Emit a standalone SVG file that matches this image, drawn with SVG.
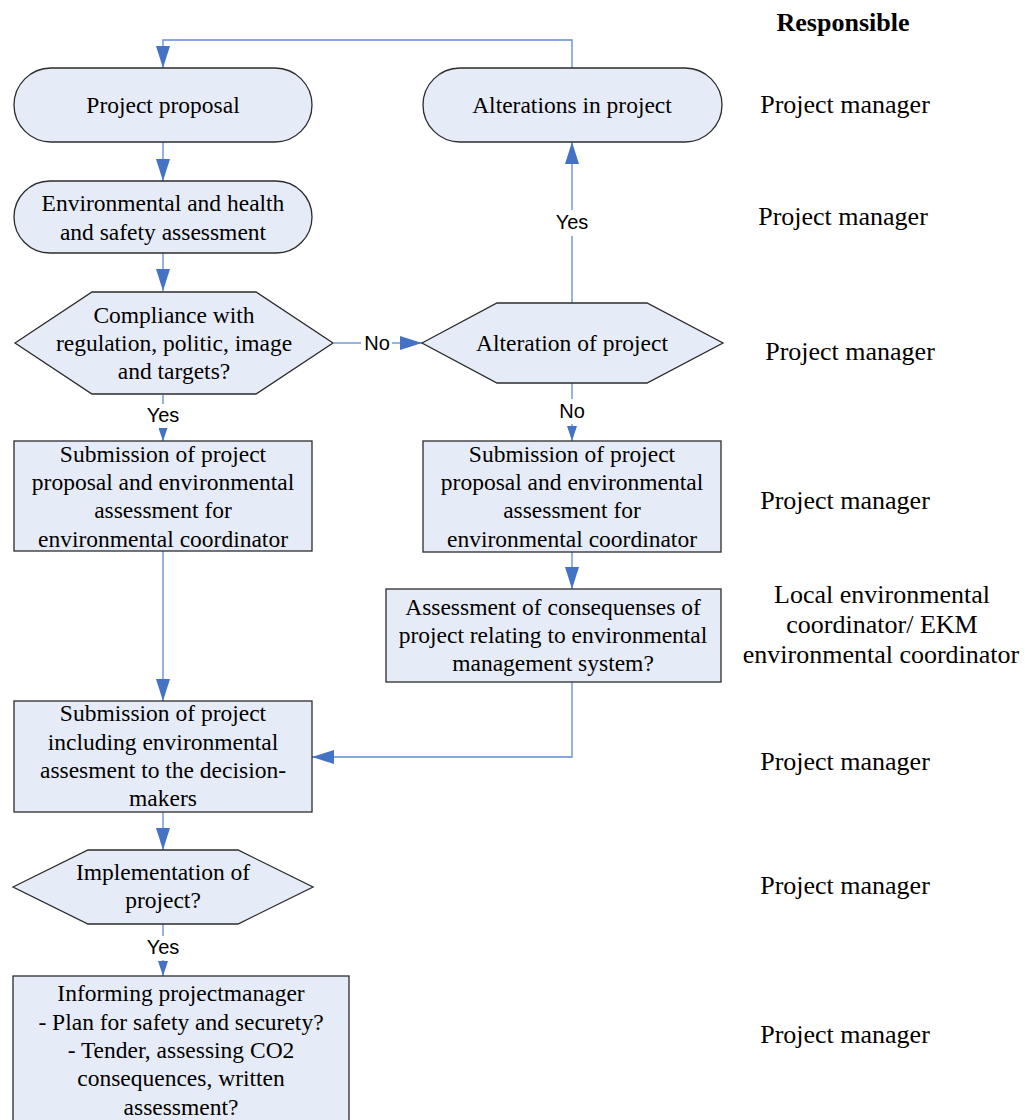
<svg xmlns="http://www.w3.org/2000/svg" width="1025" height="1120" viewBox="0 0 1025 1120">
  <style>
    .node { fill: #e6ecf7; stroke: #2b2b2b; stroke-width: 1.3; }
    .t { font-family: "Liberation Serif", "Times New Roman", serif; font-size: 23.5px; fill: #000; text-anchor: middle; }
    .resp { font-family: "Liberation Serif", "Times New Roman", serif; font-size: 26px; fill: #000; text-anchor: middle; }
    .head { font-weight: bold; }
    .lbl { font-family: "Liberation Sans", Arial, sans-serif; font-size: 20px; fill: #000; text-anchor: middle; }
    .conn { fill: none; stroke: #5b8bd3; stroke-width: 1.3; }
  </style>
  <defs>
    <marker id="arrow" viewBox="0 0 22 14" refX="22" refY="7" markerWidth="22" markerHeight="14" markerUnits="userSpaceOnUse" orient="auto">
      <path d="M0,0 L22,7 L0,14 z" fill="#4472c4"/>
    </marker>
    <marker id="arrow-sm" viewBox="0 0 13 9" refX="13" refY="4.5" markerWidth="13" markerHeight="9" markerUnits="userSpaceOnUse" orient="auto">
      <path d="M0,0 L13,4.5 L0,9 z" fill="#4472c4"/>
    </marker>
    <marker id="arrow-md" viewBox="0 0 15 10" refX="15" refY="5" markerWidth="15" markerHeight="10" markerUnits="userSpaceOnUse" orient="auto">
      <path d="M0,0 L15,5 L0,10 z" fill="#4472c4"/>
    </marker>
  </defs>
  <rect width="1025" height="1120" fill="#fff"/>

  <!-- connectors -->
  <g id="connectors">
    <path class="conn" d="M572,68 V40 H163 V68" marker-end="url(#arrow)"/>
    <path class="conn" d="M163,142 V181" marker-end="url(#arrow)"/>
    <path class="conn" d="M163,253 V291" marker-end="url(#arrow)"/>
    <path class="conn" d="M334,343 H361"/>
    <path class="conn" d="M392,343 H422" marker-end="url(#arrow)"/>
    <text class="lbl" x="377" y="350">No</text>
    <path class="conn" d="M163,395 V404"/>
    <path class="conn" d="M163,428 V441" marker-end="url(#arrow-sm)"/>
    <text class="lbl" x="163" y="422">Yes</text>
    <path class="conn" d="M572,303 V236"/>
    <path class="conn" d="M572,210 V142" marker-end="url(#arrow)"/>
    <text class="lbl" x="572" y="229">Yes</text>
    <path class="conn" d="M572,383 V399"/>
    <path class="conn" d="M572,424 V441" marker-end="url(#arrow-md)"/>
    <text class="lbl" x="572" y="418">No</text>
    <path class="conn" d="M163,551 V701" marker-end="url(#arrow)"/>
    <path class="conn" d="M572,552 V589" marker-end="url(#arrow)"/>
    <path class="conn" d="M572,682 V757 H312" marker-end="url(#arrow)"/>
    <path class="conn" d="M163,812 V850" marker-end="url(#arrow)"/>
    <path class="conn" d="M163,924 V936"/>
    <path class="conn" d="M163,960 V976" marker-end="url(#arrow-md)"/>
    <text class="lbl" x="163" y="954">Yes</text>
  </g>

  <!-- nodes -->
  <g id="project-proposal">
    <rect class="node" x="14" y="68" width="298" height="74" rx="37"/>
    <text class="t" x="163" y="113">Project proposal</text>
  </g>
  <g id="alterations-in-project">
    <rect class="node" x="423" y="68" width="299" height="74" rx="37"/>
    <text class="t" x="572" y="113">Alterations in project</text>
  </g>
  <g id="ehs-assessment">
    <rect class="node" x="14" y="181" width="298" height="72" rx="36"/>
    <text class="t" x="163" y="211">Environmental and health</text>
    <text class="t" x="163" y="240">and safety assessment</text>
  </g>
  <g id="compliance">
    <polygon class="node" points="15,343 92,292 256,292 333,343 256,394 92,394"/>
    <text class="t" x="174" y="323">Compliance with</text>
    <text class="t" x="174" y="351">regulation, politic, image</text>
    <text class="t" x="174" y="379">and targets?</text>
  </g>
  <g id="alteration-of-project">
    <polygon class="node" points="422,343 497,303 647,303 723,343 647,383 497,383"/>
    <text class="t" x="572" y="351">Alteration of project</text>
  </g>
  <g id="submission-left">
    <rect class="node" x="14" y="441" width="298" height="110"/>
    <text class="t" x="163" y="462">Submission of project</text>
    <text class="t" x="163" y="490">proposal and environmental</text>
    <text class="t" x="163" y="518">assessment for</text>
    <text class="t" x="163" y="547">environmental coordinator</text>
  </g>
  <g id="submission-right">
    <rect class="node" x="423" y="441" width="298" height="111"/>
    <text class="t" x="572" y="462">Submission of project</text>
    <text class="t" x="572" y="490">proposal and environmental</text>
    <text class="t" x="572" y="518">assessment for</text>
    <text class="t" x="572" y="547">environmental coordinator</text>
  </g>
  <g id="assessment-ems">
    <rect class="node" x="386" y="589" width="335" height="93"/>
    <text class="t" x="553" y="615">Assessment of consequenses of</text>
    <text class="t" x="553" y="643">project relating to environmental</text>
    <text class="t" x="553" y="671">management system?</text>
  </g>
  <g id="submission-decision">
    <rect class="node" x="14" y="701" width="298" height="111"/>
    <text class="t" x="163" y="721">Submission of project</text>
    <text class="t" x="163" y="750">including environmental</text>
    <text class="t" x="163" y="778">assesment to the decision-</text>
    <text class="t" x="163" y="806">makers</text>
  </g>
  <g id="implementation">
    <polygon class="node" points="13,887 88,850 238,850 313,887 238,924 88,924"/>
    <text class="t" x="163" y="880">Implementation of</text>
    <text class="t" x="163" y="908">project?</text>
  </g>
  <g id="informing">
    <rect class="node" x="13" y="976" width="336" height="150"/>
    <text class="t" x="181" y="1001">Informing projectmanager</text>
    <text class="t" x="181" y="1030">- Plan for safety and securety?</text>
    <text class="t" x="181" y="1058">- Tender, assessing CO2</text>
    <text class="t" x="181" y="1086">consequences, written</text>
    <text class="t" x="181" y="1115">assessment?</text>
  </g>

  <!-- responsibility column -->
  <g id="responsible">
    <text class="resp head" x="843" y="31">Responsible</text>
    <text class="resp" x="845" y="113">Project manager</text>
    <text class="resp" x="843" y="225">Project manager</text>
    <text class="resp" x="850" y="360">Project manager</text>
    <text class="resp" x="845" y="509">Project manager</text>
    <text class="resp" x="882" y="603">Local environmental</text>
    <text class="resp" x="882" y="633">coordinator/ EKM</text>
    <text class="resp" x="881" y="663">environmental coordinator</text>
    <text class="resp" x="845" y="770">Project manager</text>
    <text class="resp" x="845" y="894">Project manager</text>
    <text class="resp" x="845" y="1043">Project manager</text>
  </g>
</svg>
